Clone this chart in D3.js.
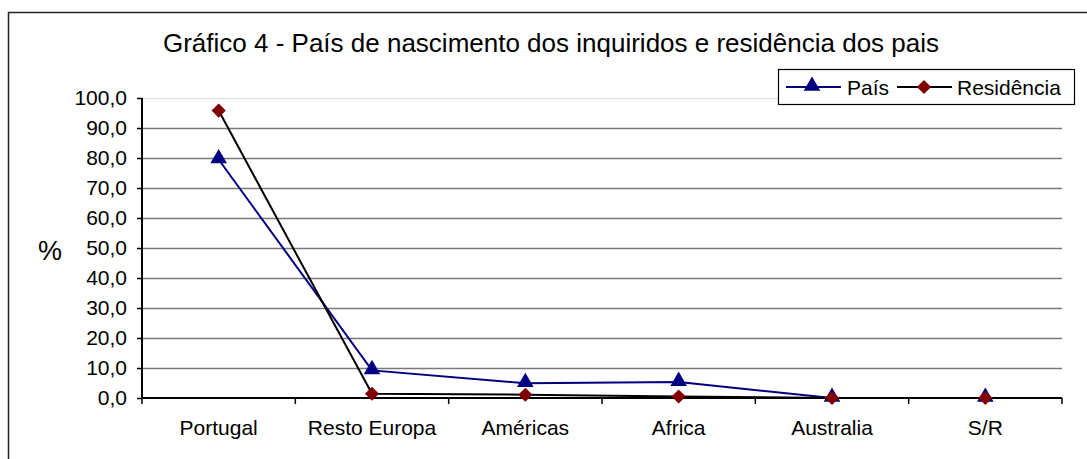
<!DOCTYPE html>
<html>
<head>
<meta charset="utf-8">
<script src="https://cdn.jsdelivr.net/npm/d3@7"></script>
<style>
  html, body { margin: 0; padding: 0; background: #fff; }
  svg { display: block; font-family: "Liberation Sans", Arial, sans-serif; }
</style>
</head>
<body>
<svg id="chart" width="1087" height="459"></svg>
<script>
// Country of birth of respondents and residence of parents (%)
const categories = ["Portugal", "Resto Europa", "Américas", "Africa", "Australia", "S/R"];
const paisValues = [79.5, 9.2, 4.9, 5.3, 0.0, 0.0];
const residenciaValues = [95.8, 1.4, 1.1, 0.5, 0.0, 0.0];
const yTicks = [0, 10, 20, 30, 40, 50, 60, 70, 80, 90, 100];
const seriesNames = ["País", "Residência"];
const titleText = "Gráfico 4 - País de nascimento dos inquiridos e residência dos pais";

const svg = d3.select("#chart");
const plot = { left: 142, right: 1062, top: 98, bottom: 398 };

// outer chart frame
svg.append("rect")
  .attr("x", 8.5).attr("y", 12.5)
  .attr("width", 1100).attr("height", 460)
  .attr("fill", "#fff").attr("stroke", "#222").attr("stroke-width", 1.5);

const x = d3.scaleBand().domain(categories).range([plot.left, plot.right]).padding(0);
const y = d3.scaleLinear().domain([0, 100]).range([plot.bottom, plot.top]);

// horizontal gridlines
svg.append("g").selectAll("line")
  .data(yTicks.filter(d => d > 0))
  .join("line")
  .attr("x1", plot.left).attr("x2", plot.right)
  .attr("y1", d => Math.round(y(d)) + 0.5).attr("y2", d => Math.round(y(d)) + 0.5)
  .attr("stroke", d => d === 100 ? "#e2e2e2" : "#7a7a7a")
  .attr("stroke-width", 1.3);

// y axis
const fmt = d => d3.format(".1f")(d).replace(".", ",");
const yAxis = d3.axisLeft(y).tickValues(yTicks).tickFormat(fmt).tickSize(5).tickPadding(10);
const gy = svg.append("g").attr("transform", `translate(${plot.left},0)`).call(yAxis);
gy.select(".domain").attr("stroke", "#000").attr("stroke-width", 2).attr("d", `M0,${plot.top}V${plot.bottom}`);
gy.selectAll(".tick line").attr("stroke", "#000").attr("stroke-width", 1.5);
gy.selectAll(".tick text").attr("font-size", 21).attr("fill", "#000")
  .attr("font-family", "Liberation Sans, Arial, sans-serif");

// x axis with ticks between categories
const xAxis = d3.axisBottom(x).tickSize(0).tickPadding(22);
const gx = svg.append("g").attr("transform", `translate(0,${plot.bottom})`).call(xAxis);
gx.select(".domain").attr("stroke", "#000").attr("stroke-width", 2).attr("d", `M${plot.left},0H${plot.right}`);
gx.selectAll(".tick text").attr("font-size", 21).attr("fill", "#000")
  .attr("font-family", "Liberation Sans, Arial, sans-serif");
const bounds = categories.map(c => x(c)).concat([plot.right]);
gx.append("g").selectAll("line").data(bounds).join("line")
  .attr("x1", d => d).attr("x2", d => d).attr("y1", 0).attr("y2", 6)
  .attr("stroke", "#000").attr("stroke-width", 1.5);

const cx = c => x(c) + x.bandwidth() / 2;
const line = d3.line().x(d => cx(d.c)).y(d => y(d.v));

const triangle = d3.symbol().type(d3.symbolTriangle).size(120);
const diamond = d3.symbol().type(d3.symbolSquare).size(100);

function drawSeries(values, color, markerColor, kind) {
  const pts = categories.map((c, i) => ({ c, v: values[i] }));
  svg.append("path").datum(pts)
    .attr("d", line).attr("fill", "none")
    .attr("stroke", color).attr("stroke-width", 2);
  svg.append("g").selectAll("path").data(pts).join("path")
    .attr("transform", d => kind === "tri"
      ? `translate(${cx(d.c)},${y(d.v) - 1})`
      : `translate(${cx(d.c)},${y(d.v)}) rotate(45)`)
    .attr("d", kind === "tri" ? triangle : diamond)
    .attr("fill", markerColor);
}

drawSeries(paisValues, "#000080", "#000080", "tri");
drawSeries(residenciaValues, "#000000", "#800000", "dia");

// title
svg.append("text")
  .attr("x", 551).attr("y", 52)
  .attr("text-anchor", "middle")
  .attr("font-size", 26).attr("fill", "#000")
  .text(titleText);

// y axis label
svg.append("text")
  .attr("x", 50).attr("y", 260)
  .attr("text-anchor", "middle")
  .attr("font-size", 27).attr("fill", "#000")
  .text("%");

// legend
const lg = svg.append("g");
lg.append("rect")
  .attr("x", 778.5).attr("y", 69.5).attr("width", 296).attr("height", 35)
  .attr("fill", "#fff").attr("stroke", "#000").attr("stroke-width", 1.2);
const legendItems = [
  { name: seriesNames[0], x0: 786, color: "#000080", mColor: "#000080", kind: "tri", tx: 847 },
  { name: seriesNames[1], x0: 897, color: "#000000", mColor: "#800000", kind: "dia", tx: 957 }
];
legendItems.forEach(it => {
  lg.append("line")
    .attr("x1", it.x0).attr("x2", it.x0 + 55).attr("y1", 87).attr("y2", 87)
    .attr("stroke", it.color).attr("stroke-width", 2);
  lg.append("path")
    .attr("transform", it.kind === "tri"
      ? `translate(${it.x0 + 26},86)`
      : `translate(${it.x0 + 27},87) rotate(45)`)
    .attr("d", it.kind === "tri" ? triangle : diamond)
    .attr("fill", it.mColor);
  lg.append("text")
    .attr("x", it.tx).attr("y", 95)
    .attr("font-size", 21).attr("fill", "#000")
    .text(it.name);
});
</script>
</body>
</html>
